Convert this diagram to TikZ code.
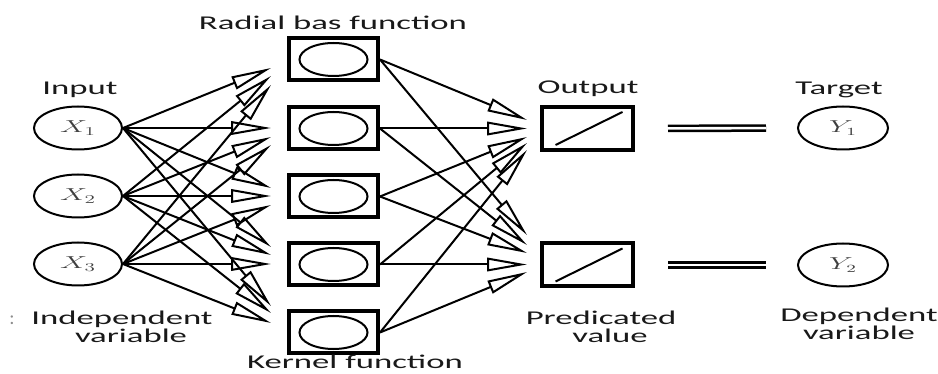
\documentclass[tikz,border=0pt]{standalone}
\usepackage{fontspec}
\newfontfamily\lab{Carlito}
\usetikzlibrary{arrows.meta,shapes.geometric,calc}
\begin{document}
\begin{tikzpicture}[x=1pt,y=-1pt,
  lbl/.style={font=\lab\fontsize{19.5}{22}\selectfont, text=black!90, inner sep=0pt, anchor=base},
  mlbl/.style={font={\lab\fontsize{19.5}{#1}\selectfont\lineskiplimit=-100pt}, text=black!90, inner sep=0pt, align=center, anchor=center},
  var/.style={font=\fontsize{17.5}{20}\selectfont, text=black!75, inner sep=0pt},
  inp/.style={ellipse, draw, line width=2pt, minimum width=88pt, minimum height=43pt, inner sep=0pt},
  hid/.style={rectangle, draw, line width=4pt, minimum width=89pt, minimum height=42pt, inner sep=0pt},
  outb/.style={rectangle, draw, line width=4pt, minimum width=91pt, minimum height=43pt, inner sep=0pt},
  arr/.style={line width=2pt, -{Triangle[open, length=40pt, width=13.5pt]}},
  eq/.style={line width=2.5pt, double distance=2.6pt, shorten <=33pt, shorten >=31pt},
]
\useasboundingbox (0,0) rectangle (938,374);

% input nodes
\node[inp] (x1) at (78,128) {};
\node[inp] (x2) at (78,196) {};
\node[inp] (x3) at (78,264) {};
\node[var] (x1t) at (x1) {\scalebox{1.76}[1]{$X_1$}};
\node[var] (x2t) at (x2) {\scalebox{1.76}[1]{$X_2$}};
\node[var] (x3t) at (x3) {\scalebox{1.76}[1]{$X_3$}};

% hidden nodes
\node[hid] (h1) at (333.5,59.5) {};
\node[hid] (h2) at (333.5,128.5) {};
\node[hid] (h3) at (333.5,196.5) {};
\node[hid] (h4) at (333.5,264.5) {};
\node[hid] (h5) at (333.5,332.5) {};
\foreach \i in {1,...,5}
  \draw[line width=2pt] (h\i.center) ellipse [x radius=34, y radius=16.5];

% output nodes
\node[outb] (o1) at (587.5,128.5) {};
\node[outb] (o2) at (587.5,265) {};
\foreach \o in {o1,o2}
  \draw[line width=2pt] ($(\o.center)+(-32,16.5)$) -- ($(\o.center)+(35,-16.5)$);

% target nodes
\node[inp, minimum width=90pt] (y1) at (843,128) {};
\node[inp, minimum width=90pt] (y2) at (843,265) {};
\node[var, font=\fontsize{16}{18}\selectfont] (y1t) at (y1) {\scalebox{1.75}[1]{$Y_1$}};
\node[var, font=\fontsize{16}{18}\selectfont] (y2t) at (y2) {\scalebox{1.75}[1]{$Y_2$}};

% input -> hidden
\foreach \h/\a/\b/\c in {1/8.5/16.5/25.5, 2/-0.5/8.5/16.5, 3/-8.5/-0.5/8.5, 4/-17.5/-9.5/-0.5, 5/-26.5/-19.5/-9.5}{
  \draw[arr] (x1.east) -- ($(h\h.west)+(-16,\a)$);
  \draw[arr] (x2.east) -- ($(h\h.west)+(-16,\b)$);
  \draw[arr] (x3.east) -- ($(h\h.west)+(-16,\c)$);
}

% hidden -> output
\foreach \h/\a/\b in {1/-8.5/-30, 2/0/-20, 3/8.5/-12, 4/14.5/-0.5, 5/21.5/7}{
  \draw[arr] (h\h.east) -- ($(o1.west)+(-13,\a)$);
  \draw[arr] (h\h.east) -- ($(o2.west)+(-13,\b)$);
}

% equal signs
\draw[eq] (o1.east) -- (y1.west);
\draw[eq] (o2.east) -- (y2.west);

% labels
\node[lbl] (lin) at (80,95) {\scalebox{1.78}[1]{Input}};
\node[lbl] (lrb) at (333,30) {\scalebox{1.78}[1]{Radial bas function}};
\node[lbl] (lout) at (588,94) {\scalebox{1.78}[1]{Output}};
\node[lbl] (ltg) at (839,95) {\scalebox{1.78}[1]{Target}};
\node[lbl, text=black!45] (lcol) at (12,325) {:};
\node[mlbl=18] (lind) at (122,327) {\scalebox{1.78}[1]{Independent}\\\hspace*{18pt}\scalebox{1.78}[1]{variable}};
\node[lbl] (lker) at (355,368) {\scalebox{1.78}[1]{Kernel function}};
\node[mlbl=18] (lpre) at (601,327) {\scalebox{1.78}[1]{Predicated}\\\hspace*{18pt}\scalebox{1.78}[1]{value}};
\node[mlbl=18] (ldep) at (859,324) {\scalebox{1.78}[1]{Dependent}\\\scalebox{1.78}[1]{variable}};
\end{tikzpicture}
\end{document}
